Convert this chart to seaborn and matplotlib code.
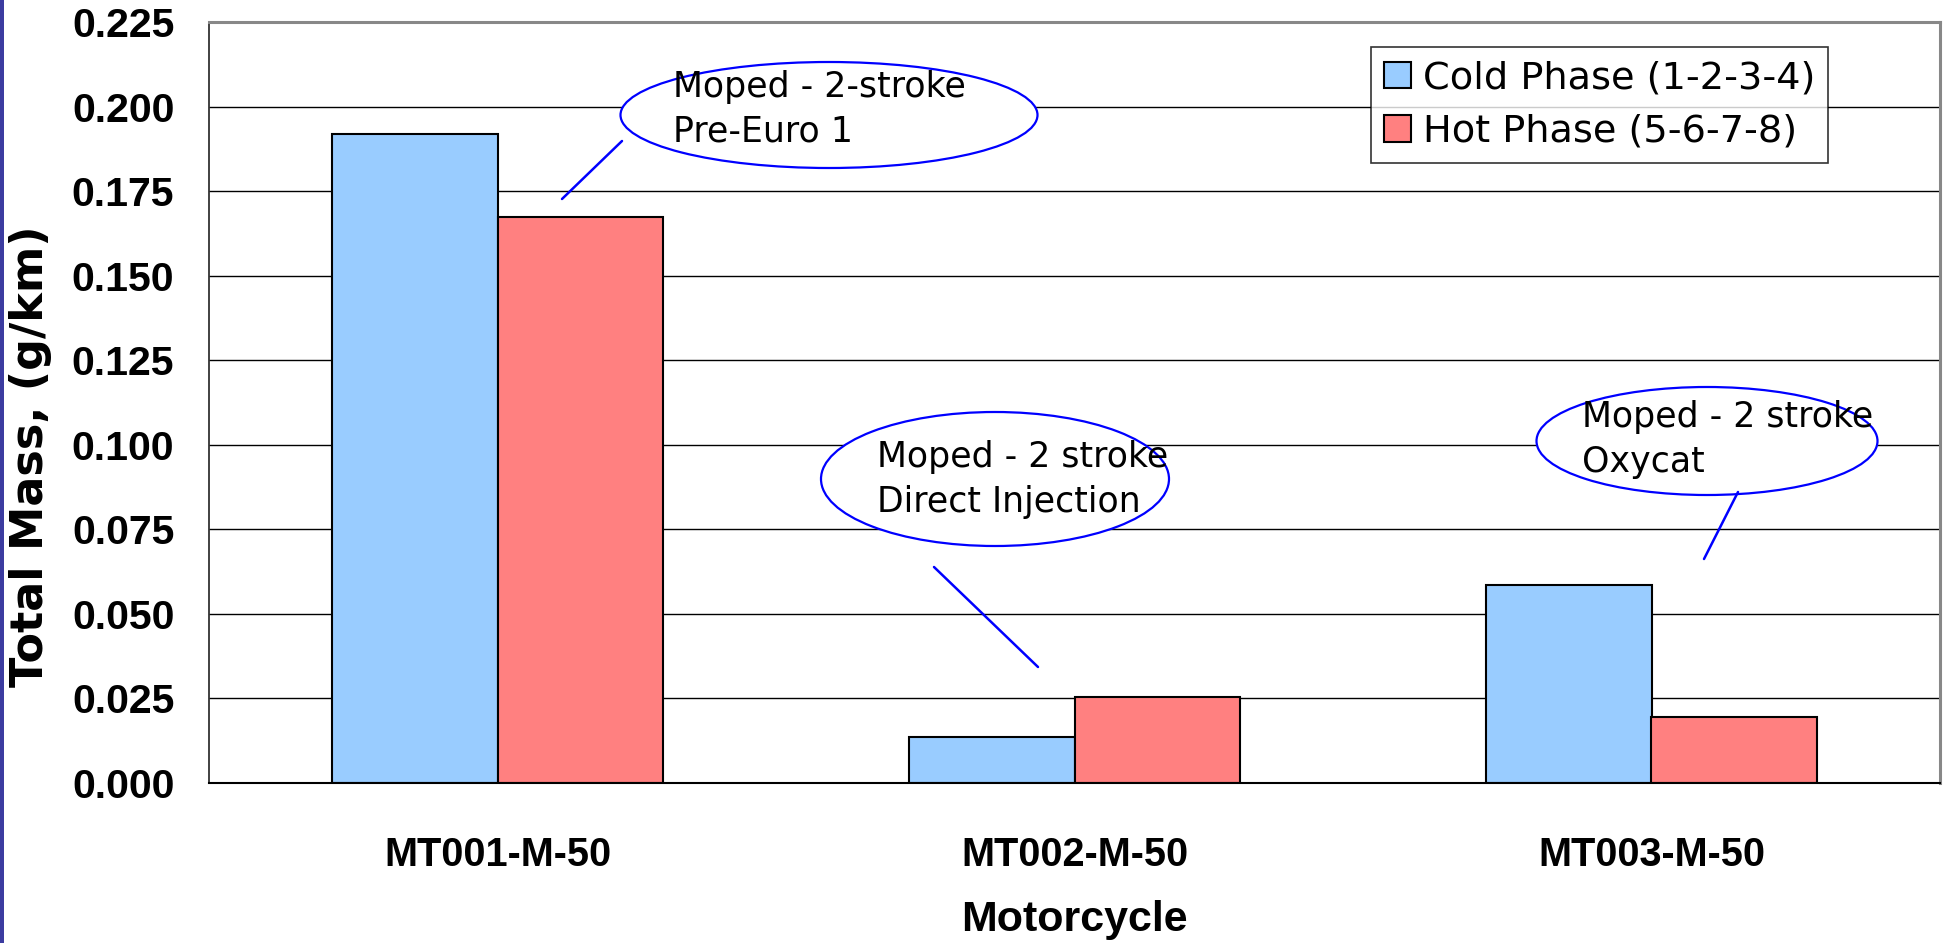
import matplotlib
matplotlib.use("Agg")
import matplotlib.pyplot as plt
import seaborn as sns
import pandas as pd
from matplotlib.patches import Ellipse, Rectangle
from matplotlib.lines import Line2D
from matplotlib.ticker import FixedLocator, FuncFormatter

# ---- data ----
categories = ["MT001-M-50", "MT002-M-50", "MT003-M-50"]
series_names = ["Cold Phase (1-2-3-4)", "Hot Phase (5-6-7-8)"]
cold_values = [0.1919, 0.0137, 0.0586]
hot_values = [0.1674, 0.0255, 0.0196]
y_ticks = [0.000, 0.025, 0.050, 0.075, 0.100, 0.125, 0.150, 0.175, 0.200, 0.225]
callout_texts = [
    ["Moped - 2-stroke", "Pre-Euro 1"],
    ["Moped - 2 stroke", "Direct Injection"],
    ["Moped - 2 stroke", "Oxycat"],
]

df = pd.DataFrame({
    "Motorcycle": categories * 2,
    "Phase": [series_names[0]] * 3 + [series_names[1]] * 3,
    "Mass": cold_values + hot_values,
})

sns.set_theme(style="white")
plt.rcParams["font.family"] = ["DejaVu Sans"]
BOLD = ["Liberation Sans", "DejaVu Sans"]

W, H = 1951, 943
fig = plt.figure(figsize=(W / 100, H / 100), dpi=100)
fig.patch.set_facecolor("white")

# plot area in pixels
L, R, T, B = 209, 1940, 22, 783
ax = fig.add_axes([L / W, 1 - B / H, (R - L) / W, (B - T) / H])

sns.barplot(data=df, x="Motorcycle", y="Mass", hue="Phase",
            palette=["#99CCFF", "#FF8080"], saturation=1, width=0.575,
            edgecolor="black", linewidth=1.5, ax=ax, errorbar=None)

ax.set_xlim(-0.5, 2.5)
ax.set_ylim(0, 0.225)
ax.yaxis.set_major_locator(FixedLocator(y_ticks))
ax.yaxis.set_major_formatter(FuncFormatter(lambda v, p: f"{v:.3f}"))
ax.yaxis.grid(True, color="black", linewidth=1.0)
ax.set_axisbelow(True)

for s in ["top", "right"]:
    ax.spines[s].set_color("#888888")
    ax.spines[s].set_linewidth(2.2)
ax.spines["left"].set_color("#333333")
ax.spines["left"].set_linewidth(1.3)
ax.spines["bottom"].set_color("black")
ax.spines["bottom"].set_linewidth(1.5)

ax.tick_params(axis="y", which="major", direction="out", length=10, width=1,
               color="#333333", pad=15)
ax.tick_params(axis="x", which="major", length=0, pad=38)
ax.set_xticks([-0.5, 0.5, 1.5, 2.5], minor=True)
ax.tick_params(axis="x", which="minor", direction="out", length=10, width=1,
               color="#333333")
for lab in ax.get_xticklabels():
    lab.set_fontweight("bold")
    lab.set_family(BOLD)
    lab.set_fontsize(28.5)
    lab.set_color("black")
for lab in ax.get_yticklabels():
    lab.set_fontweight("bold")
    lab.set_family(BOLD)
    lab.set_fontsize(29.5)
    lab.set_color("black")

ax.set_xlabel("Motorcycle", fontsize=31, fontweight="bold", color="black",
              family=BOLD)
ax.xaxis.label.set_va("center")
ax.xaxis.set_label_coords(0.5, (B - 920) / (B - T))
ax.set_ylabel("Total Mass, (g/km)", fontsize=32, fontweight="bold", color="black",
              family=["DejaVu Sans"])
ax.yaxis.label.set_va("center")
ax.yaxis.set_label_coords((31 - L) / (R - L), (B - 456) / (B - T))

# legend
handles, labels = ax.get_legend_handles_labels()
leg = ax.legend(handles, labels, loc="upper left",
                bbox_to_anchor=(1371 / W, 1 - 47 / H), bbox_transform=fig.transFigure,
                fontsize=27.5, frameon=True, fancybox=False, shadow=False,
                borderaxespad=0, borderpad=0.35, handlelength=0.7, handleheight=0.7,
                handletextpad=0.3, labelspacing=0.45)
leg.get_frame().set_edgecolor("black")
leg.get_frame().set_linewidth(1.2)
for t in leg.get_texts():
    t.set_color("black")

# callouts (pixel geometry -> axes fraction)
def ax_x(px):
    return (px - L) / (R - L)

def ax_y(py):
    return (B - py) / (B - T)

ellipses = [((829, 115), 417, 106), ((995, 479), 348, 134), ((1707, 441), 341, 108)]
text_pos = [(673, 97, 142), (877, 467, 512), (1582, 427, 472)]
pointers = [((622, 141), (562, 199)), ((934, 567), (1038, 667)), ((1738, 492), (1704, 559))]

for (c, w, h), (tx, b1, b2), (p0, p1), lines in zip(ellipses, text_pos, pointers, callout_texts):
    e = Ellipse((ax_x(c[0]), ax_y(c[1])), w / (R - L), h / (B - T),
                transform=ax.transAxes, facecolor="white", edgecolor="#0000FF",
                linewidth=1.6, zorder=5, clip_on=False)
    ax.add_patch(e)
    ax.text(ax_x(tx), ax_y(b1), lines[0], transform=ax.transAxes, fontsize=25,
            va="baseline", ha="left", color="black", zorder=6)
    ax.text(ax_x(tx), ax_y(b2), lines[1], transform=ax.transAxes, fontsize=25,
            va="baseline", ha="left", color="black", zorder=6)
    ax.add_line(Line2D([ax_x(p0[0]), ax_x(p1[0])], [ax_y(p0[1]), ax_y(p1[1])],
                       transform=ax.transAxes, color="#0000FF", linewidth=1.8,
                       zorder=6, clip_on=False))

# left decorative stripe
fig.patches.append(Rectangle((0, 0), 4 / W, 1, transform=fig.transFigure,
                             facecolor="#3C3CA0", edgecolor="none"))

fig.savefig("out.png", dpi=100)
